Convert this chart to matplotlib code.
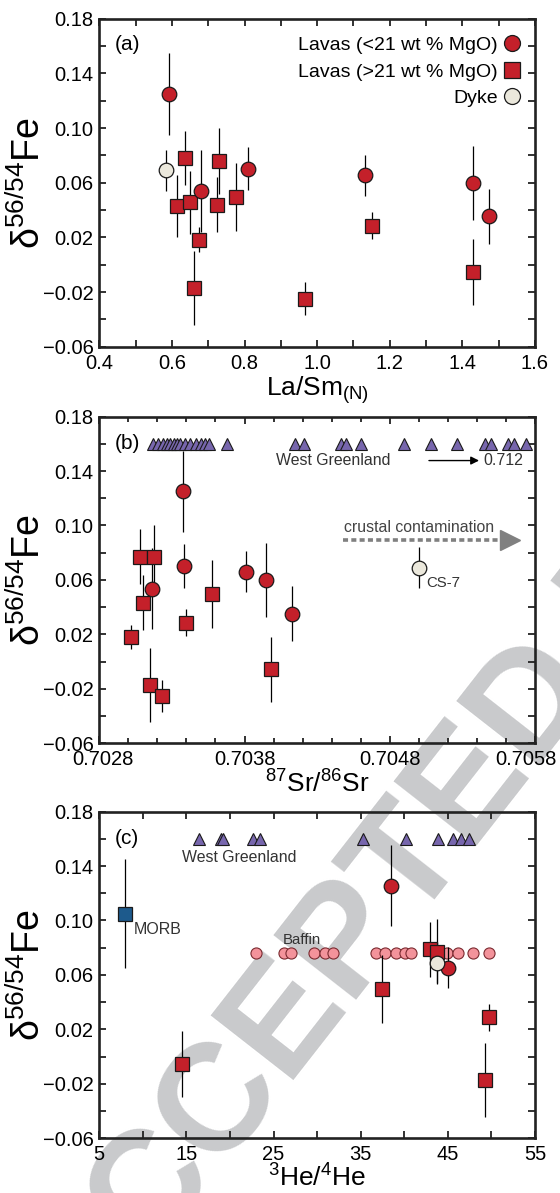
import matplotlib
matplotlib.use('Agg')
import matplotlib.pyplot as plt
from matplotlib.lines import Line2D
from matplotlib.ticker import MultipleLocator, FixedLocator, FormatStrFormatter, FuncFormatter
from matplotlib.transforms import ScaledTranslation

plt.rcParams['font.family'] = ['Liberation Sans', 'DejaVu Sans']
plt.rcParams['mathtext.default'] = 'regular'

# ---------------- data ----------------
# (a) La/Sm(N)
a_lava_x = [0.591, 0.680, 0.810, 1.133, 1.430, 1.473]
a_lava_y = [0.125, 0.0536, 0.0703, 0.0656, 0.060, 0.0354]
a_lava_e = [0.030, 0.030, 0.016, 0.015, 0.027, 0.020]
a_cum_x = [0.635, 0.729, 0.615, 0.651, 0.725, 0.776, 0.674, 0.661, 0.967, 1.152, 1.428]
a_cum_y = [0.078, 0.076, 0.043, 0.0456, 0.044, 0.0496, 0.0183, -0.0173, -0.025, 0.0286, -0.0053]
a_cum_e = [0.020, 0.024, 0.023, 0.023, 0.020, 0.025, 0.009, 0.027, 0.012, 0.010, 0.024]
a_dyke_x = [0.583]
a_dyke_y = [0.069]
a_dyke_e = [0.015]

# (b) 87Sr/86Sr
b_lava_x = [0.703375, 0.703163, 0.703385, 0.703812, 0.703946, 0.704128]
b_lava_y = [0.125, 0.0536, 0.0703, 0.0659, 0.060, 0.0352]
b_lava_e = [0.030, 0.030, 0.016, 0.015, 0.027, 0.020]
b_cum_x = [0.703079, 0.703175, 0.703104, 0.703017, 0.703578, 0.703398, 0.703146, 0.703232, 0.703985]
b_cum_y = [0.0772, 0.0765, 0.0433, 0.018, 0.0494, 0.0286, -0.0173, -0.0254, -0.0058]
b_cum_e = [0.020, 0.024, 0.020, 0.009, 0.025, 0.010, 0.027, 0.012, 0.024]
b_dyke_x = [0.70500]
b_dyke_y = [0.0691]
b_dyke_e = [0.015]
b_wg_x = [0.703169, 0.703203, 0.703238, 0.703265, 0.703289, 0.703312, 0.703335,
          0.703358, 0.703388, 0.703422, 0.703469, 0.703503, 0.703526, 0.703556,
          0.703676, 0.704146, 0.704208, 0.704467, 0.704499, 0.704605, 0.704900,
          0.705082, 0.705262, 0.705456, 0.705498, 0.705615, 0.705653, 0.705740]
wg_level = 0.16

# (c) 3He/4He
c_lava_x = [38.5, 45.0]
c_lava_y = [0.1256, 0.0654]
c_lava_e = [0.030, 0.015]
c_cum_x = [42.9, 43.7, 37.4, 14.5, 49.7, 49.3]
c_cum_y = [0.0788, 0.0771, 0.050, -0.0054, 0.0288, -0.0172]
c_cum_e = [0.020, 0.024, 0.025, 0.024, 0.010, 0.027]
c_dyke_x = [43.8]
c_dyke_y = [0.069]
c_dyke_e = [0.015]
c_morb_x = [8.0]
c_morb_y = [0.105]
c_morb_e = [0.040]
c_wg_x = [16.4, 19.0, 19.25, 22.6, 23.4, 35.3, 40.2, 43.9, 45.6, 46.5, 47.4]
c_baffin_x = [22.95, 26.2, 27.0, 29.6, 30.9, 31.8, 36.7, 37.8, 39.1, 40.1, 40.8,
              44.9, 46.15, 47.9, 49.7]
baffin_level = 0.076

# ---------------- style ----------------
RED = '#c4202a'
DYKE = '#ebe8dc'
TRI = '#7766ad'
PINK = '#f3939b'
BLUE = '#1d5a8c'
EDGE = '#1a1a1a'
GREY_TXT = '#333333'
MS = 10.5

fig = plt.figure(figsize=(5.6, 11.93), dpi=100)

# watermark behind everything
fig.text(0.15, -0.13, 'ACCEPTED MANUSCRIPT', rotation=52, rotation_mode='anchor',
         ha='left', va='baseline', fontsize=110, fontweight='bold',
         color='#c9cacc', zorder=-5)

ax_a = fig.add_axes([0.1773, 0.7094, 0.7780, 0.2749])
ax_b = fig.add_axes([0.1773, 0.3770, 0.7780, 0.2738])
ax_c = fig.add_axes([0.1773, 0.0459, 0.7780, 0.2738])


def minus_fmt(fmt):
    return FuncFormatter(lambda v, p: (fmt % v).replace('-', '\u2212'))


def style(ax):
    ax.set_facecolor('none')
    ax.set_ylim(-0.06, 0.18)
    ax.yaxis.set_major_locator(FixedLocator([-0.06, -0.02, 0.02, 0.06, 0.10, 0.14, 0.18]))
    ax.yaxis.set_minor_locator(MultipleLocator(0.02))
    ax.yaxis.set_major_formatter(minus_fmt('%.2f'))
    for s in ax.spines.values():
        s.set_linewidth(1.9)
        s.set_color('#222222')
    ax.tick_params(which='both', direction='in', top=True, right=True,
                   length=5, width=1.3, color='#222222')
    ax.tick_params(axis='both', which='major', labelsize=14.5, pad=4)
    ax.tick_params(axis='x', which='major', pad=5)
    ax.set_ylabel('δ$^{56/54}$Fe', fontsize=27)
    ax.yaxis.set_label_coords(-0.118, 0.5)


def points(ax, x, y, e, marker, face, ms=MS, z=4):
    ax.errorbar(x, y, yerr=e, fmt='none', ecolor='k', elinewidth=0.9, zorder=z - 1)
    ax.plot(x, y, ls='none', marker=marker, ms=ms, mfc=face, mec=EDGE, mew=0.9, zorder=z)


for ax in (ax_a, ax_b, ax_c):
    style(ax)

# ---- (a)
points(ax_a, a_cum_x, a_cum_y, a_cum_e, 's', RED)
points(ax_a, a_lava_x, a_lava_y, a_lava_e, 'o', RED)
points(ax_a, a_dyke_x, a_dyke_y, a_dyke_e, 'o', DYKE)
ax_a.set_xlim(0.4, 1.6)
ax_a.xaxis.set_major_locator(MultipleLocator(0.2))
ax_a.xaxis.set_minor_locator(MultipleLocator(0.1))
ax_a.xaxis.set_major_formatter(FormatStrFormatter('%.1f'))
ax_a.set_xlabel('La/Sm$_{(N)}$', fontsize=19, labelpad=1)
ax_a.text(0.035, 0.92, '(a)', transform=ax_a.transAxes, fontsize=15, va='center')
handles = [Line2D([], [], ls='none', marker='o', ms=11.5, mfc=RED, mec=EDGE, mew=0.9),
           Line2D([], [], ls='none', marker='s', ms=11, mfc=RED, mec=EDGE, mew=0.9),
           Line2D([], [], ls='none', marker='o', ms=11.5, mfc=DYKE, mec=EDGE, mew=0.9)]
ax_a.legend(handles, ['Lavas (<21 wt % MgO)', 'Lavas (>21 wt % MgO)', 'Dyke'],
            loc='upper right', bbox_to_anchor=(0.99, 0.975), markerfirst=False,
            frameon=False, fontsize=14, handlelength=0.9, handletextpad=0.3,
            labelspacing=0.45, borderaxespad=0.3, borderpad=0.2)

# ---- (b)
ax_b.plot(b_wg_x, [wg_level] * len(b_wg_x), ls='none', marker='^', ms=9,
          mfc=TRI, mec=EDGE, mew=0.8, zorder=4)
points(ax_b, b_cum_x, b_cum_y, b_cum_e, 's', RED)
points(ax_b, b_lava_x, b_lava_y, b_lava_e, 'o', RED)
points(ax_b, b_dyke_x, b_dyke_y, b_dyke_e, 'o', DYKE)
ax_b.set_xlim(0.7028, 0.7058)
ax_b.xaxis.set_major_locator(FixedLocator([0.7028, 0.7038, 0.7048, 0.7058]))
ax_b.xaxis.set_minor_locator(MultipleLocator(0.0002))
ax_b.xaxis.set_major_formatter(FormatStrFormatter('%.4f'))
ax_b.tick_params(axis='x', which='minor', length=3.5)
ax_b.set_xlabel('$^{87}$Sr/$^{86}$Sr', fontsize=19, labelpad=1)
ax_b.text(0.035, 0.917, '(b)', transform=ax_b.transAxes, fontsize=15, va='center')
ax_b.text(0.704414, 0.148, 'West Greenland', fontsize=11.4, color=GREY_TXT,
          ha='center', va='center')
ax_b.annotate('', xy=(0.705415, 0.1477), xytext=(0.70507, 0.1477),
              arrowprops=dict(arrowstyle='-|>', color='k', lw=1.0, mutation_scale=12,
                              shrinkA=0, shrinkB=0))
ax_b.text(0.705445, 0.1477, '0.712', fontsize=11.5, color=GREY_TXT, ha='left', va='center')
ax_b.text(0.705, 0.0985, 'crustal contamination', fontsize=11.4, color='#444444',
          ha='center', va='center')
ax_b.plot([0.70448, 0.70560], [0.089, 0.089], ls=(0, (1.4, 0.9)), lw=2.6,
          color='#808080', zorder=3)
ax_b.plot([0.70563], [0.089], ls='none', marker='>', ms=15, color='#808080', zorder=3)
ax_b.text(0.705048, 0.0575, 'CS-7', fontsize=10.8, color=GREY_TXT, ha='left', va='center')
# nudge the two end labels inward a little, as in the original
b_ticks = ax_b.xaxis.get_major_ticks()
b_ticks[0].label1.set_transform(b_ticks[0].label1.get_transform()
                                + ScaledTranslation(4 / 100, 0, fig.dpi_scale_trans))
b_ticks[-1].label1.set_transform(b_ticks[-1].label1.get_transform()
                                 + ScaledTranslation(-9 / 100, 0, fig.dpi_scale_trans))

# ---- (c)
ax_c.plot(c_wg_x, [wg_level] * len(c_wg_x), ls='none', marker='^', ms=9,
          mfc=TRI, mec=EDGE, mew=0.8, zorder=4)
ax_c.plot(c_baffin_x, [baffin_level] * len(c_baffin_x), ls='none', marker='o', ms=8,
          mfc=PINK, mec='#7a2a30', mew=0.8, zorder=2)
points(ax_c, c_morb_x, c_morb_y, c_morb_e, 's', BLUE)
points(ax_c, c_cum_x, c_cum_y, c_cum_e, 's', RED)
points(ax_c, c_lava_x, c_lava_y, c_lava_e, 'o', RED)
points(ax_c, c_dyke_x, c_dyke_y, c_dyke_e, 'o', DYKE)
ax_c.set_xlim(5, 55)
ax_c.xaxis.set_major_locator(FixedLocator([5, 15, 25, 35, 45, 55]))
ax_c.xaxis.set_minor_locator(MultipleLocator(5))
ax_c.set_xlabel('$^{3}$He/$^{4}$He', fontsize=19, labelpad=0)
ax_c.text(0.035, 0.917, '(c)', transform=ax_c.transAxes, fontsize=15, va='center')
ax_c.text(21.1, 0.1465, 'West Greenland', fontsize=11.4, color=GREY_TXT,
          ha='center', va='center')
ax_c.text(9.0, 0.0935, 'MORB', fontsize=11.5, color=GREY_TXT, ha='left', va='center')
ax_c.text(28.2, 0.0857, 'Baffin', fontsize=10.8, color=GREY_TXT, ha='center', va='center')

fig.savefig('out.png', dpi=100)
